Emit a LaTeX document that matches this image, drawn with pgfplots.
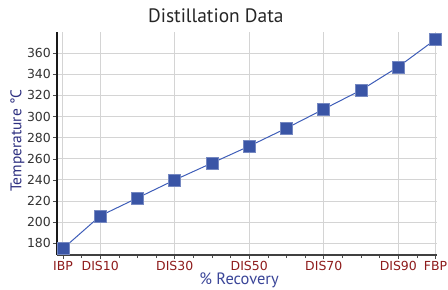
\documentclass[border=0pt]{standalone}
\usepackage{pgfplots}
\pgfplotsset{compat=1.18}
\usepackage{fontspec}
\setmainfont{DejaVu Sans}
\newfontfamily\labelfont{PT Sans}
\definecolor{mk}{HTML}{3A55A6}
\definecolor{ln}{HTML}{3E5DB8}
\definecolor{ylab}{HTML}{2D2F80}
\definecolor{xlab}{HTML}{3A4598}
\definecolor{xtl}{HTML}{8E1B1B}
\definecolor{ytl}{HTML}{333333}
\definecolor{gridc}{HTML}{D4D4D4}
\begin{document}
\begin{tikzpicture}
\path[use as bounding box] (-57bp,-35bp) rectangle (391bp,255bp);
\begin{axis}[
  scale only axis, width=380bp, height=223bp,
  xmin=-1.6, xmax=100.4, ymin=169, ymax=380,
  xtick={0,10,30,50,70,90,100},
  xticklabels={IBP,DIS10,DIS30,DIS50,DIS70,DIS90,FBP},
  minor xtick={5,15,20,25,35,40,45,55,60,65,75,80,85,95},
  ytick={180,200,...,360},
  xmajorgrids, ymajorgrids,
  grid style={gridc, line width=1pt},
  axis x line*=bottom, axis y line*=left,
  x axis line style={-, draw=black!75, line width=1.2pt},
  y axis line style={-, draw=black!90, line width=2.2pt},
  tick align=outside,
  major tick length=4bp, minor tick length=3bp,
  tick style={black!70, line width=0.6pt},
  xticklabel style={font=\fontsize{12.5}{14}\selectfont, text=xtl, inner ysep=2bp},
  yticklabel style={font=\fontsize{12.5}{14}\selectfont, text=ytl, inner xsep=2bp},
  /pgf/number format/assume math mode=true,
  title={\labelfont\fontsize{19.5}{21}\selectfont Distillation Data},
  title style={at={(0.418,1)}, anchor=south, yshift=0bp, text=black!85},
  xlabel={\labelfont\fontsize{16.5}{18}\selectfont \% Recovery},
  xlabel style={text=xlab, at={(ticklabel cs:0.479)}, anchor=near ticklabel, yshift=1bp, inner ysep=0.5bp},
  ylabel={\labelfont\fontsize{15.5}{17}\selectfont Temperature °C},
  ylabel style={text=ylab, at={(ticklabel cs:0.513)}, anchor=near ticklabel, yshift=-3bp},
  clip=false,
]
\addplot[color=ln, line width=1pt, mark=square*, mark size=6bp,
  mark options={fill=mk, draw=mk!70!white, line width=0.5pt}]
coordinates {
(0,175) (10,206) (20,223) (30,240) (40,256) (50,272)
(60,289) (70,307) (80,325) (90,347) (100,373)
};
\end{axis}
\end{tikzpicture}
\end{document}
